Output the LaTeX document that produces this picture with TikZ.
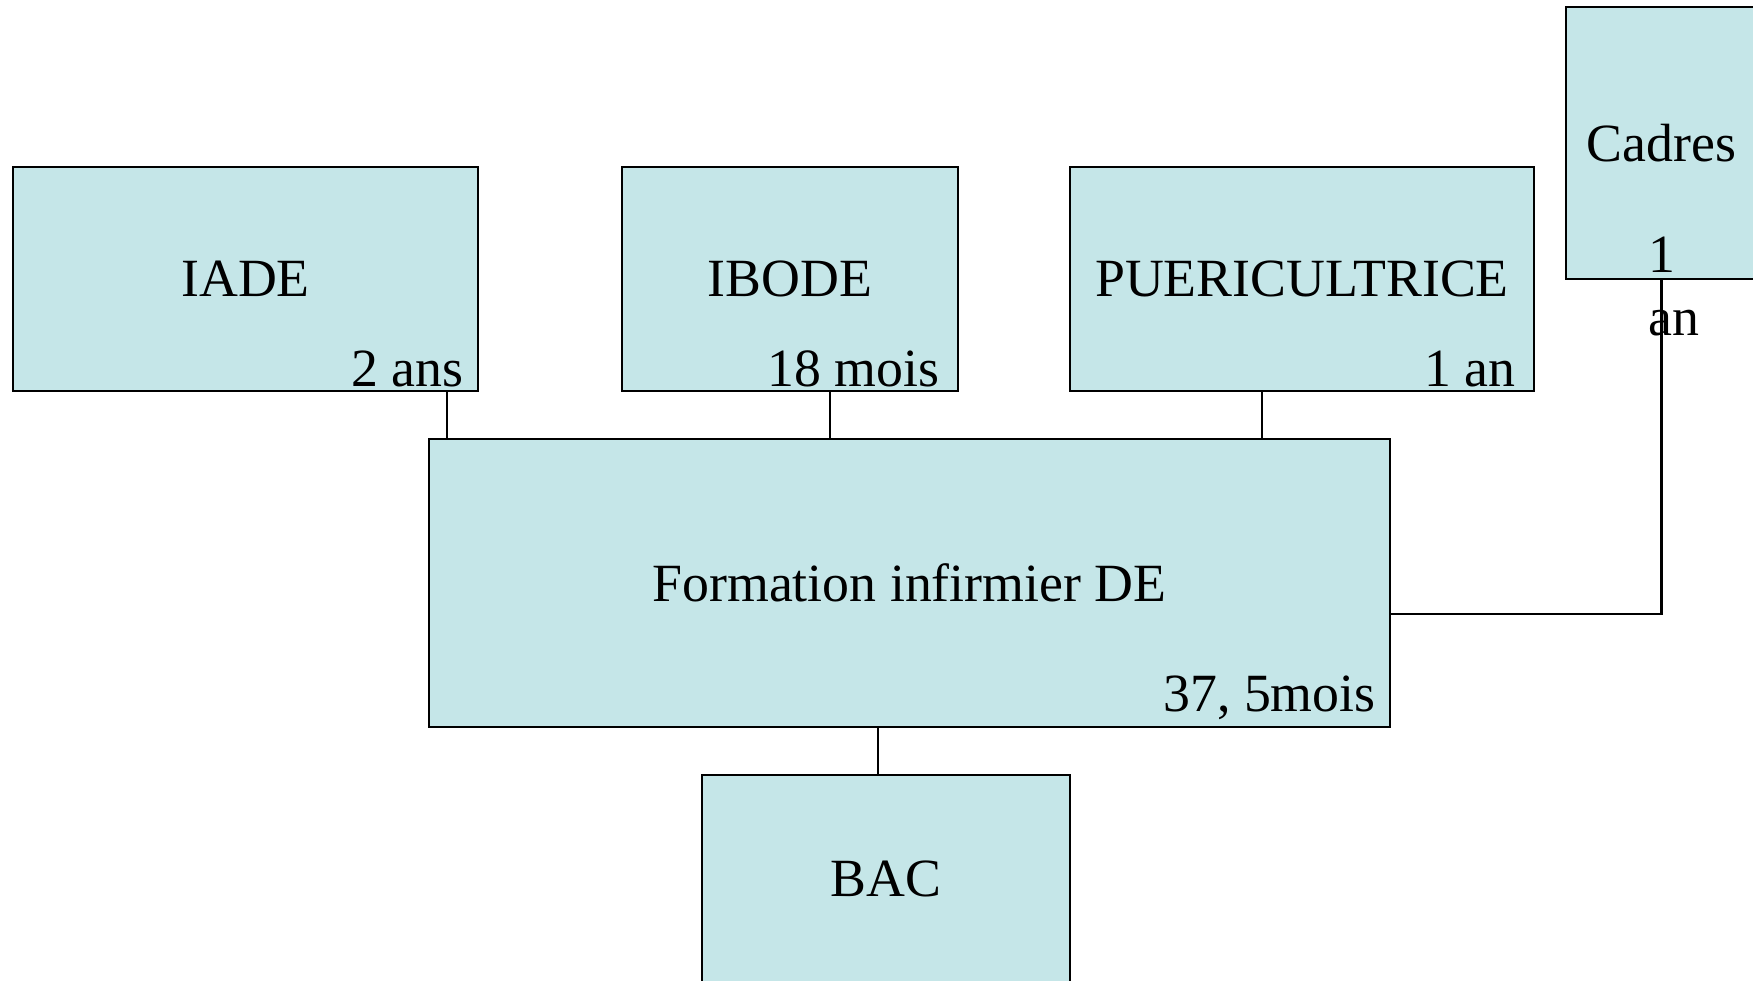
\documentclass[tikz,border=0pt]{standalone}
\usepackage{fontspec}
\setmainfont{Liberation Serif}
\definecolor{boxcyan}{RGB}{197,230,232}
\begin{document}
\begin{tikzpicture}[x=0.01cm,y=-0.01cm,font=\fontsize{15.3}{17.9}\selectfont]
\clip (0,0) rectangle (1753,981);
\begin{scope}[every node/.style={rectangle,draw=black,line width=0.6pt,fill=boxcyan,inner sep=0pt}]
    \node[minimum width=4.65cm,minimum height=2.23cm] (iade) at (245.5,279) {IADE};
    \node[minimum width=3.36cm,minimum height=2.23cm] (ibode) at (790,279) {IBODE};
    \node[minimum width=4.64cm,minimum height=2.23cm] (puer) at (1302,279) {PUERICULTRICE};
    \node[minimum width=1.91cm,minimum height=2.71cm] (cadres) at (1661.5,143) {Cadres};

    \node[minimum width=9.61cm,minimum height=2.87cm] (formation) at (909.5,583) {Formation infirmier DE};
    \node[minimum width=3.68cm,minimum height=2.08cm] (bac) at (886,879.3) {BAC};
\end{scope}

\begin{scope}[every node/.style={anchor=base east,inner sep=0pt}]
    \node (iadeduree) at ([xshift=-0.15cm,yshift=0.055cm]iade.south east) {2 ans};
    \node (ibodeduree) at ([xshift=-0.19cm,yshift=0.055cm]ibode.south east) {18 mois};
    \node (puerduree) at ([xshift=-0.19cm,yshift=0.055cm]puer.south east) {1 an};
    \node (formationduree) at ([xshift=-0.15cm,yshift=0.16cm]formation.south east) {37, 5mois};
    \node[anchor=base,align=center] (cadresduree) at ([yshift=-0.56cm]cadres.south) {1\\\hspace*{0.24cm}an};
\end{scope}

\coordinate (iadepied) at ([xshift=-0.32cm]iade.south east);
\coordinate (ibodepied) at ([xshift=0.4cm]ibode.south);
\coordinate (puerpied) at ([xshift=-0.4cm]puer.south);
\coordinate (bactete) at ([xshift=-0.08cm]bac.north);
\coordinate (formationsortie) at ([yshift=-0.31cm]formation.east);

\begin{scope}[every edge/.style={draw=black,line width=0.6pt}]
    \path [-] (iadepied) edge (iadepied |- formation.north);
    \path [-] (ibodepied) edge (ibodepied |- formation.north);
    \path [-] (puerpied) edge (puerpied |- formation.north);
    \path [-] (bactete) edge (bactete |- formation.south);
\end{scope}
\draw [line width=0.6pt] (formationsortie) -| (cadres.south);
\end{tikzpicture}
\end{document}
